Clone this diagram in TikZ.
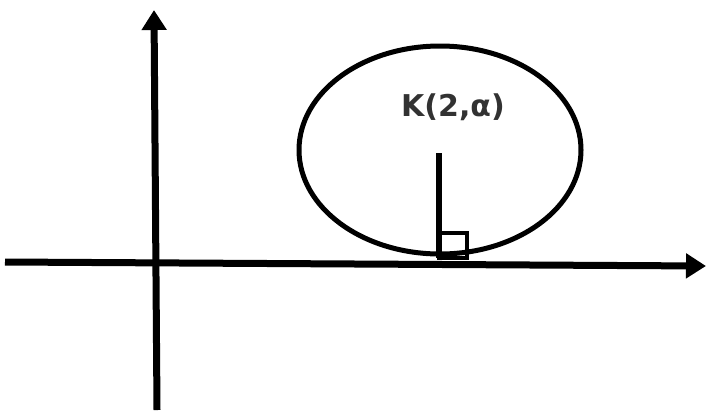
\documentclass[tikz,border=0pt]{standalone}
\usepackage{fontspec}
\setmainfont{DejaVu Sans}
\usetikzlibrary{arrows.meta}
\definecolor{labelgray}{RGB}{50,50,50}
\tikzset{
  % thick hand-drawn strokes
  axis/.style={line width=7pt,-{Triangle[length=20pt,width=24pt]}},
  pen/.style={line width=5pt},
  % label text
  lbl/.style={font=\bfseries\fontsize{30}{32}\selectfont,text=labelgray,inner sep=0pt}
}
\begin{document}
\begin{tikzpicture}[x=1pt,y=-1pt]
  \useasboundingbox (0,0) rectangle (709,410);
  %%%%%%%%%%%%%%%%%%%%%%%%%%%%%%%%%%%%%%%
  \coordinate (xstart) at (5,262);
  \coordinate (xend) at (706,266);
  \coordinate (ystart) at (157,410);
  \coordinate (yend) at (154,10);
  \draw[axis] (xstart) -- (xend);
  \draw[axis] (ystart) -- (yend);
  %%%%%%%%%%%%%%%%%%%%%%%%%%%%%%%%%%%%%%%
  \coordinate (centre) at (440,150);
  \draw[pen] (centre) ellipse [x radius=141, y radius=104];
  \node[lbl] (label) at (453,107) {K(2,α)};
  %%%%%%%%%%%%%%%%%%%%%%%%%%%%%%%%%%%%%%%
  \coordinate (rtop) at (439,153);
  \coordinate (rfoot) at (439,258);
  \draw[line width=6pt] (rtop) -- (rfoot);
  \draw[line width=3.5pt] (439,233) rectangle (467,258);
\end{tikzpicture}
\end{document}
